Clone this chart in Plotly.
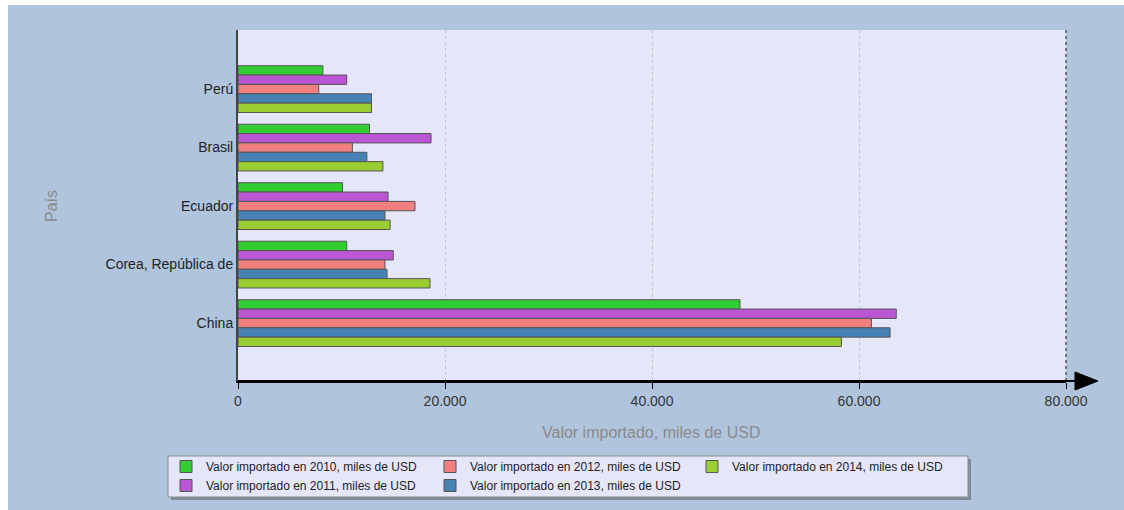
import plotly.graph_objects as go

countries = ["Perú", "Brasil", "Ecuador", "Corea, República de", "China"]
v2010 = [8200, 12700, 10100, 10500, 48500]
v2011 = [10500, 18650, 14500, 15000, 63600]
v2012 = [7800, 11050, 17100, 14200, 61200]
v2013 = [12900, 12450, 14200, 14400, 63000]
v2014 = [12900, 14000, 14700, 18550, 58300]

series = [
    ("Valor importado en 2010, miles de USD", v2010, "#32CD32", "legend"),
    ("Valor importado en 2011, miles de USD", v2011, "#BA55D3", "legend"),
    ("Valor importado en 2012, miles de USD", v2012, "#F08080", "legend2"),
    ("Valor importado en 2013, miles de USD", v2013, "#4682B4", "legend2"),
    ("Valor importado en 2014, miles de USD", v2014, "#9ACD32", "legend3"),
]

FONT = "Liberation Sans, Arial, sans-serif"

fig = go.Figure()
for name, vals, color, leg in series:
    fig.add_trace(go.Bar(
        y=countries, x=vals, name=name, orientation="h",
        marker=dict(color=color, line=dict(color="#555555", width=1)),
        legend=leg,
    ))

# plot area pixel geometry: x 238..1066, y 30..381
PL, PR, PT, PB = 238, 1066, 30, 381
W, H = 1124, 510
pw, ph = PR - PL, PB - PT
def px(x):
    return (x - PL) / pw
def py(y):
    return (PB - y) / ph

shapes = [
    # white border strips (top / left)
    dict(type="rect", xref="paper", yref="paper", layer="below",
         x0=px(-2), x1=px(W + 2), y0=py(5), y1=py(-2),
         fillcolor="#FFFFFF", line=dict(width=0)),
    dict(type="rect", xref="paper", yref="paper", layer="below",
         x0=px(-2), x1=px(8), y0=py(H + 2), y1=py(-2),
         fillcolor="#FFFFFF", line=dict(width=0)),
    # plot area
    dict(type="rect", xref="paper", yref="paper", layer="below",
         x0=0, x1=1, y0=0, y1=1, fillcolor="#E6E6FA", line=dict(width=0)),
    # legend shadow
    dict(type="rect", xref="paper", yref="paper", layer="below",
         x0=px(171), x1=px(971), y0=py(500), y1=py(459),
         fillcolor="#7F8A99", line=dict(width=0)),
    # legend box
    dict(type="rect", xref="paper", yref="paper", layer="below",
         x0=px(168), x1=px(968), y0=py(497), y1=py(456),
         fillcolor="#E6E6FA", line=dict(color="#8C8C8C", width=1)),
    # right dotted border
    dict(type="line", xref="paper", yref="paper", x0=1, x1=1, y0=0, y1=1,
         line=dict(color="#555555", width=1.5, dash="dot")),
    # x axis arrow line extension
    dict(type="line", xref="paper", yref="paper", x0=0, x1=px(1078), y0=0, y1=0,
         line=dict(color="#000000", width=2)),
    # arrow head
    dict(type="path", xref="paper", yref="paper",
         path=f"M {px(1075)} {py(372)} L {px(1098)} {py(381)} L {px(1075)} {py(390)} Z",
         fillcolor="#000000", line=dict(color="#000000", width=1)),
]

def leg(xpix):
    return dict(
        orientation="v", x=px(xpix), y=py(452), xanchor="left", yanchor="top",
        bgcolor="rgba(0,0,0,0)", borderwidth=0,
        font=dict(family=FONT, size=12, color="#222222"),
        traceorder="normal", itemwidth=30,
    )

fig.update_layout(
    width=W, height=H,
    margin=dict(l=PL, r=W - PR, t=PT, b=H - PB, pad=0, autoexpand=False),
    paper_bgcolor="#B0C4DE",
    plot_bgcolor="rgba(0,0,0,0)",
    separators=",.",
    barmode="group",
    bargap=0.2,
    bargroupgap=0,
    font=dict(family=FONT, size=14, color="#222222"),
    showlegend=True,
    legend=leg(166),
    legend2=leg(430),
    legend3=leg(692),
    xaxis=dict(
        range=[0, 80000], tickvals=[0, 20000, 40000, 60000, 80000], tickformat=",d",
        showgrid=True, gridcolor="#B4C4E2", griddash="3px,3px", gridwidth=1,
        showline=True, linecolor="#000000", linewidth=2,
        ticks="outside", ticklen=6, tickcolor="#000000", tickwidth=1,
        tickfont=dict(size=14, color="#333333"),
        zeroline=False, fixedrange=True,
    ),
    yaxis=dict(
        type="category", range=[4.99, -1.01],
        showgrid=False, showline=True, linecolor="#444444", linewidth=2,
        ticks="", tickfont=dict(size=14, color="#222222"),
        ticklabelstandoff=0, zeroline=False,
    ),
    shapes=shapes,
    annotations=[
        dict(text="Valor importado, miles de USD", xref="paper", yref="paper",
             x=px(651), y=py(432), showarrow=False, xanchor="center", yanchor="middle",
             font=dict(family=FONT, size=16, color="#8A8A8A")),
        dict(text="País", xref="paper", yref="paper", textangle=-90,
             x=px(52), y=py(206), showarrow=False, xanchor="center", yanchor="middle",
             font=dict(family=FONT, size=16, color="#8A8A8A")),
    ],
)

fig.write_html("out.html", config={"displayModeBar": False},
               post_script="document.body.style.margin='0';"
                           "document.body.style.background='#B0C4DE';")
